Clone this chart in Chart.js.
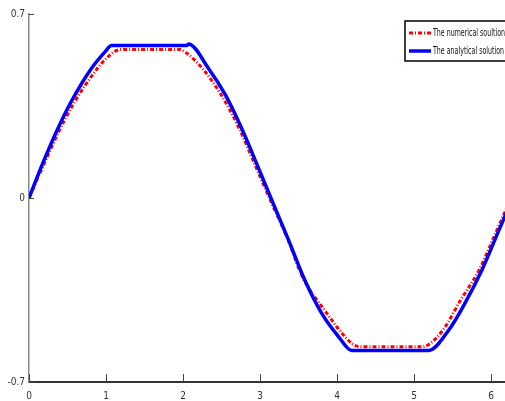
<!DOCTYPE html>
<html>
<head>
<meta charset="utf-8">
<script src="https://cdn.jsdelivr.net/npm/chart.js@4.4.1/dist/chart.umd.min.js"></script>
<style>
  html, body { margin: 0; padding: 0; background: #fff; overflow: hidden; }
  #wrap { width: 516px; height: 401px; position: relative; }
</style>
</head>
<body>
<div id="wrap"><canvas id="c"></canvas></div>
<script>
// ---- data ----
const seriesNames = ["The numerical soultion", "The analytical solution"];

const analyticalX = [0, 0.17, 0.36, 0.55, 0.81, 0.99, 1.07, 2.05, 2.07, 2.33, 2.55, 2.76, 2.98, 3.14, 3.37, 3.58, 3.80, 4.02, 4.19, 5.19, 5.45, 5.66, 5.88, 6.09, 6.28];
const analyticalY = [0, 0.126, 0.255, 0.368, 0.493, 0.557, 0.58, 0.58, 0.586, 0.493, 0.392, 0.265, 0.113, 0.0, -0.16, -0.312, -0.439, -0.528, -0.58, -0.58, -0.502, -0.40, -0.274, -0.13, 0.0];

const numericalX = [0, 0.18, 0.38, 0.58, 0.88, 1.0, 1.1, 1.2, 1.95, 2.03, 2.26, 2.5, 2.72, 2.95, 3.12, 3.35, 3.55, 3.87, 4.05, 4.2, 4.3, 5.1, 5.2, 5.38, 5.6, 5.85, 6.07, 6.26];
const numericalY = [0, 0.12, 0.248, 0.36, 0.49, 0.53, 0.555, 0.565, 0.565, 0.555, 0.49, 0.39, 0.27, 0.115, 0, -0.15, -0.30, -0.44, -0.51, -0.555, -0.566, -0.566, -0.555, -0.50, -0.39, -0.27, -0.125, 0];

const xTicks = [0, 1, 2, 3, 4, 5, 6];
const yTicks = [-0.7, 0, 0.7];
const xMin = 0, xMax = 6.2832, yMin = -0.7, yMax = 0.7;

const FONT = "'Liberation Sans Narrow', 'DejaVu Sans Condensed', 'Liberation Sans', sans-serif";

function pts(xs, ys) { return xs.map((x, i) => ({ x: x, y: ys[i] })); }

// inward tick marks (MATLAB style)
const inwardTicks = {
  id: 'inwardTicks',
  afterDatasetsDraw(chart) {
    const ctx = chart.ctx, xs = chart.scales.x, ys = chart.scales.y, a = chart.chartArea;
    ctx.save();
    ctx.strokeStyle = '#444';
    ctx.lineWidth = 1;
    xs.ticks.forEach(t => {
      const px = Math.round(xs.getPixelForValue(t.value)) + 0.5;
      ctx.beginPath(); ctx.moveTo(px, a.bottom); ctx.lineTo(px, a.bottom - 8); ctx.stroke();
    });
    ys.ticks.forEach(t => {
      const py = Math.round(ys.getPixelForValue(t.value)) + 0.5;
      ctx.beginPath(); ctx.moveTo(a.left, py); ctx.lineTo(a.left + 5, py); ctx.stroke();
    });
    ctx.restore();
  }
};

// boxed legend inside the axes, top right
const boxLegend = {
  id: 'boxLegend',
  afterDraw(chart) {
    const ctx = chart.ctx, a = chart.chartArea;
    const left = a.right - 108, top = a.top + 7, w = 110, h = 40;
    ctx.save();
    ctx.fillStyle = '#fff';
    ctx.fillRect(left, top, w, h);
    ctx.strokeStyle = '#000';
    ctx.lineWidth = 1.5;
    ctx.strokeRect(left, top, w, h);
    ctx.font = '11px ' + FONT;
    const ref = ctx.measureText(chart.data.datasets[0].label).width;
    const sx = Math.min(1, 72 / ref);
    [0, 1].forEach((di, row) => {
      const ds = chart.data.datasets[di];
      const cy = top + 12 + row * 18;
      ctx.beginPath();
      ctx.strokeStyle = ds.borderColor;
      ctx.lineWidth = ds.borderWidth;
      ctx.setLineDash(ds.borderDash || []);
      ctx.moveTo(left + 4, cy); ctx.lineTo(left + 26, cy);
      ctx.stroke();
      ctx.setLineDash([]);
      ctx.save();
      ctx.translate(left + 28, cy);
      ctx.scale(sx, 1);
      ctx.fillStyle = '#111';
      ctx.font = '11px ' + FONT;
      ctx.textBaseline = 'middle';
      ctx.textAlign = 'left';
      ctx.fillText(ds.label, 0, 0);
      ctx.restore();
    });
    ctx.restore();
  }
};

new Chart(document.getElementById('c'), {
  type: 'line',
  data: {
    datasets: [
      {
        label: seriesNames[0],
        data: pts(numericalX, numericalY),
        borderColor: '#ff0000',
        borderWidth: 3,
        borderDash: [4, 2, 1, 2],
        pointRadius: 0,
        cubicInterpolationMode: 'monotone',
        fill: false,
        order: 2
      },
      {
        label: seriesNames[1],
        data: pts(analyticalX, analyticalY),
        borderColor: '#0000ff',
        borderWidth: 3.5,
        pointRadius: 0,
        cubicInterpolationMode: 'monotone',
        fill: false,
        order: 1
      }
    ]
  },
  options: {
    responsive: true,
    maintainAspectRatio: false,
    animation: false,
    layout: { padding: { top: 14, right: 3, left: 0, bottom: 0 } },
    plugins: { legend: { display: false }, tooltip: { enabled: false } },
    scales: {
      x: {
        type: 'linear', min: xMin, max: xMax,
        afterBuildTicks: s => { s.ticks = xTicks.map(v => ({ value: v })); },
        afterFit: s => { s.height = 19; },
        grid: { display: false, drawTicks: false },
        border: { display: true, color: '#333', width: 2 },
        ticks: { color: '#333', font: { family: FONT, size: 10 }, padding: 8, maxRotation: 0,
                 callback: v => String(v) }
      },
      y: {
        type: 'linear', min: yMin, max: yMax,
        afterBuildTicks: s => { s.ticks = yTicks.map(v => ({ value: v })); },
        afterFit: s => { s.width = 29; },
        grid: { display: false, drawTicks: false },
        border: { display: true, color: '#8a8a8a', width: 1.5 },
        ticks: { color: '#333', font: { family: FONT, size: 10 }, padding: 4,
                 callback: v => String(v) }
      }
    }
  },
  plugins: [inwardTicks, boxLegend]
});
</script>
</body>
</html>
